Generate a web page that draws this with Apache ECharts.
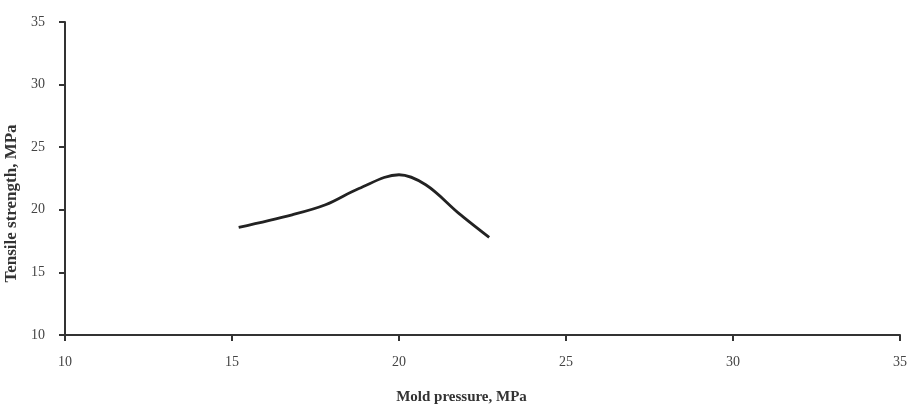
<!DOCTYPE html>
<html>
<head>
<meta charset="utf-8">
<script src="https://cdn.jsdelivr.net/npm/echarts@6/dist/echarts.min.js"></script>
<style>
  html, body { margin: 0; padding: 0; background: #fff; }
  #chart { width: 907px; height: 405px; }
</style>
</head>
<body>
<div id="chart"></div>
<script>
// 数据
const moldPressure = [15.2, 16.8, 17.8, 18.8, 20.0, 20.8, 21.8, 22.7];
const tensileStrength = [18.6, 19.6, 20.4, 21.7, 22.8, 22.0, 19.7, 17.8];

const chart = echarts.init(document.getElementById('chart'));
const font = '"Liberation Serif", "DejaVu Serif", serif';

const option = {
  animation: false,
  grid: { left: 65, right: 7, top: 22, bottom: 70, outerBoundsMode: 'none', containLabel: false },
  xAxis: {
    type: 'value',
    min: 10, max: 35, interval: 5,
    name: 'Mold pressure, MPa',
    nameLocation: 'middle',
    nameGap: 55,
    //标题稍微偏左
    nameTextStyle: { fontFamily: font, fontWeight: 'bold', fontSize: 15, color: '#333', padding: [0, 42, 0, 0] },
    axisLine: { lineStyle: { color: '#333', width: 2 } },
    axisTick: { lineStyle: { color: '#333', width: 2 }, length: 6 },
    axisLabel: { fontFamily: font, fontSize: 14, color: '#444', margin: 20 },
    splitLine: { show: false }
  },
  yAxis: {
    type: 'value',
    min: 10, max: 35, interval: 5,
    name: 'Tensile strength, MPa',
    nameLocation: 'middle',
    nameGap: 32,
    //标题稍微偏下
    nameTextStyle: { fontFamily: font, fontWeight: 'bold', fontSize: 17, color: '#333', padding: [0, 50, 0, 0] },
    axisLine: { show: true, lineStyle: { color: '#333', width: 2 } },
    axisTick: { show: true, lineStyle: { color: '#333', width: 2 }, length: 6 },
    axisLabel: { fontFamily: font, fontSize: 14, color: '#444', margin: 20 },
    splitLine: { show: false }
  },
  series: [{
    type: 'line',
    data: moldPressure.map((x, i) => [x, tensileStrength[i]]),
    smooth: 0.35,
    showSymbol: false,
    lineStyle: { color: '#222', width: 2.8 }
  }]
};
chart.setOption(option);
</script>
</body>
</html>
